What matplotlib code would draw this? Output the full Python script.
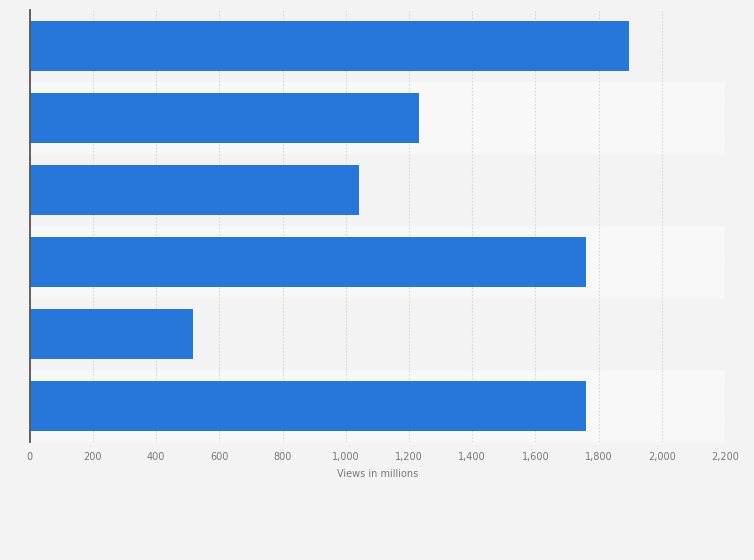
import matplotlib.pyplot as plt

# values, top bar first
views = [1895, 1231, 1041, 1759, 518, 1759]
ticks = list(range(0, 2201, 200))
tick_labels = [f"{t:,}" for t in ticks]

BAR_COLOR = "#2677d9"

fig = plt.figure(figsize=(7.54, 5.6), dpi=100, facecolor="#f3f3f3")
ax = fig.add_axes([0.0394, 0.2107, 0.9221, 0.7713])
ax.set_facecolor("#f3f3f3")

n = len(views)
pos = list(range(n))

# alternating row bands
for i in pos:
    ax.axhspan(i - 0.5, i + 0.5, color="#f3f3f3" if i % 2 == 0 else "#f8f8f8",
               zorder=0, lw=0)

ax.barh(pos, views, height=0.69, color=BAR_COLOR, zorder=3)

ax.set_ylim(n - 0.5, -0.5)
ax.set_xlim(0, 2200)
ax.set_xticks(ticks)
ax.set_xticklabels(tick_labels, fontsize=7, color="#777777")
ax.set_yticks([])
ax.tick_params(axis="x", length=0, pad=7)

ax.grid(axis="x", color="#d8d8d8", linestyle=(0, (1.5, 1.5)), linewidth=0.8, zorder=1)
ax.set_axisbelow(True)

for side in ["top", "right", "bottom"]:
    ax.spines[side].set_visible(False)
ax.spines["left"].set_color("#555555")
ax.spines["left"].set_linewidth(1.3)
ax.spines["left"].set_zorder(4)

ax.set_xlabel("Views in millions", fontsize=7, color="#777777", labelpad=5)

fig.savefig("out.png", dpi=100, facecolor=fig.get_facecolor())
